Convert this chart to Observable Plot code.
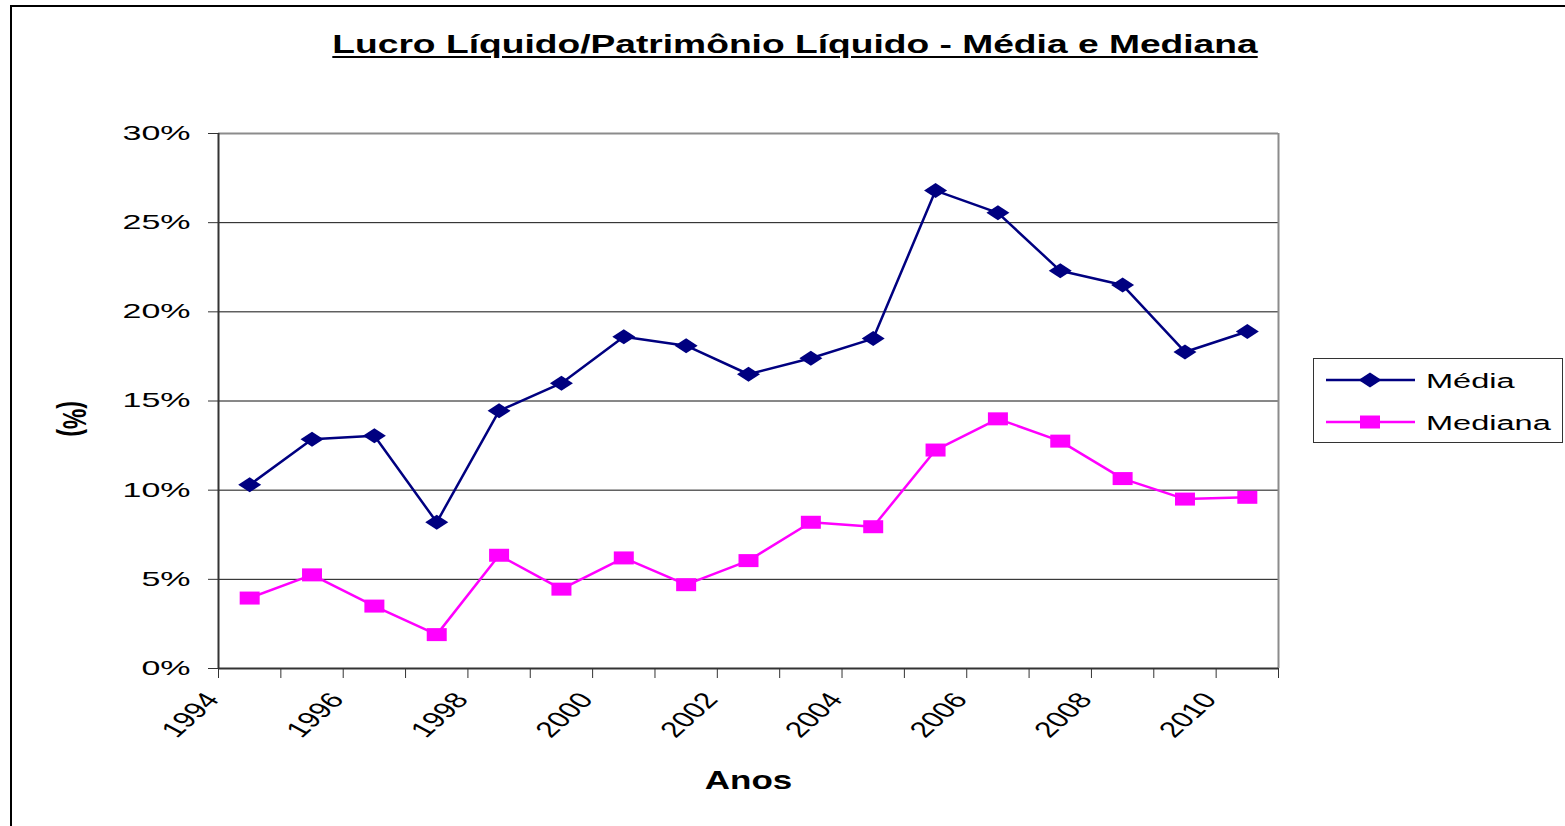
<!DOCTYPE html>
<html>
<head>
<meta charset="utf-8">
<script src="https://cdn.jsdelivr.net/npm/d3@7"></script>
<script src="https://cdn.jsdelivr.net/npm/@observablehq/plot@0.6"></script>
<style>
  body { margin: 0; background: #fff; font-family: "Liberation Sans", Arial, sans-serif; }
  #wrap { position: relative; width: 1565px; height: 826px; overflow: hidden; background: #fff; }
  #border { position: absolute; left: 10px; top: 5px; width: 1600px; height: 900px; border-left: 2px solid #000; border-top: 2px solid #000; }
  #chart { position: absolute; left: 0; top: 0; }
  #title { position: absolute; left: 795px; top: 29px; white-space: nowrap; font-weight: bold; font-size: 26px; line-height: 30px;
           text-decoration: underline; text-decoration-thickness: 2px; text-underline-offset: 3px;
           transform: translateX(-50%) scaleX(1.43); transform-origin: center; }
  #legend { position: absolute; left: 1313px; top: 358px; width: 250px; height: 85px; box-sizing: border-box; border: 1px solid #333; background: #fff; }
</style>
</head>
<body>
<div id="wrap">
  <div id="border"></div>
  <div id="chart"></div>
  <div id="title">Lucro Líquido/Patrimônio Líquido - Média e Mediana</div>
  <div id="legend"></div>
</div>
<script>
// ---- data ----
const years = [1994, 1995, 1996, 1997, 1998, 1999, 2000, 2001, 2002, 2003, 2004, 2005, 2006, 2007, 2008, 2009, 2010];
const media = [10.3, 12.85, 13.05, 8.2, 14.45, 16.0, 18.6, 18.1, 16.5, 17.4, 18.5, 26.8, 25.55, 22.3, 21.5, 17.75, 18.9];
const mediana = [3.95, 5.25, 3.5, 1.9, 6.35, 4.45, 6.2, 4.7, 6.05, 8.2, 7.95, 12.25, 14.0, 12.75, 10.65, 9.5, 9.6];
const seriesNames = ["Média", "Mediana"];
const seriesColors = ["#000080", "#FF00FF"];
const yTicks = [0, 5, 10, 15, 20, 25, 30];
const xTickYears = [1994, 1995, 1996, 1997, 1998, 1999, 2000, 2001, 2002, 2003, 2004, 2005, 2006, 2007, 2008, 2009, 2010, 2011];
const xLabelYears = [1994, 1996, 1998, 2000, 2002, 2004, 2006, 2008, 2010];
const xTitle = "Anos";
const yTitle = "(%)";

const rowsMedia = years.map((year, i) => ({year, value: media[i]}));
const rowsMediana = years.map((year, i) => ({year, value: mediana[i]}));

// wide marker shapes
const wideDiamond = { draw(ctx) { ctx.moveTo(-11.5, 0); ctx.lineTo(0, -7.5); ctx.lineTo(11.5, 0); ctx.lineTo(0, 7.5); ctx.closePath(); } };
const wideSquare = { draw(ctx) { ctx.rect(-10, -6.5, 20, 13); } };

const xc = d => d.year + 0.5;

const plot = Plot.plot({
  width: 1565,
  height: 826,
  marginLeft: 218,
  marginRight: 287,
  marginTop: 133,
  marginBottom: 158,
  x: {domain: [1994, 2011]},
  y: {domain: [0, 30]},
  style: {fontFamily: "'Liberation Sans', Arial, sans-serif", color: "#000", background: "transparent", overflow: "visible"},
  marks: [
    Plot.ruleY(yTicks.filter(d => d > 0 && d < 30), {stroke: "#111", strokeWidth: 1}),
    Plot.ruleY([30], {stroke: "#8c8c8c", strokeWidth: 2}),
    Plot.ruleX([2011], {stroke: "#8c8c8c", strokeWidth: 2}),
    Plot.axisY({ticks: yTicks, tickFormat: d => d + "%", tickSize: 10, tickPadding: 18, fontSize: 20, label: null, stroke: "#333", strokeOpacity: 1}),
    Plot.axisX({ticks: xTickYears, tickFormat: () => "", tickSize: 10, label: null, stroke: "#333", strokeOpacity: 1}),
    Plot.ruleX([1994], {stroke: "#333", strokeWidth: 2}),
    Plot.ruleY([0], {stroke: "#333", strokeWidth: 2}),
    Plot.text(xLabelYears, {x: d => d, frameAnchor: "bottom", text: d => String(d), rotate: -52, textAnchor: "end", lineAnchor: "top", dx: -16, dy: 22, fontSize: 22}),
    Plot.text([xTitle], {frameAnchor: "bottom", text: d => d, dy: 120, lineAnchor: "bottom", fontWeight: "bold", fontSize: 25}),
    Plot.text([yTitle], {frameAnchor: "left", text: d => d, dx: -145, rotate: 90, fontWeight: "bold", fontSize: 23}),
    Plot.line(rowsMedia, {x: xc, y: "value", stroke: seriesColors[0], strokeWidth: 2.5}),
    Plot.dot(rowsMedia, {x: xc, y: "value", symbol: wideDiamond, fill: seriesColors[0], stroke: "none", r: 6}),
    Plot.line(rowsMediana, {x: xc, y: "value", stroke: seriesColors[1], strokeWidth: 2.5}),
    Plot.dot(rowsMediana, {x: xc, y: "value", symbol: wideSquare, fill: seriesColors[1], stroke: "none", r: 6})
  ]
});
document.getElementById("chart").appendChild(plot);

// horizontal (screen) stretch of texts like the reference rendering
function stretchText(t, s) {
  const tr = t.getAttribute("transform") || "";
  if (tr.includes("rotate(")) t.setAttribute("transform", tr.replace("rotate(", `scale(${s},1) rotate(`));
  else t.setAttribute("transform", tr + ` scale(${s},1)`);
}
plot.querySelectorAll("text").forEach(t => {
  const s = t.textContent.trim();
  if (/^\d{4}$/.test(s)) stretchText(t, 1.45);
  else if (s === xTitle) stretchText(t, 1.4);
  else if (s === yTitle) stretchText(t, 1.45);
  else if (/^\d+%$/.test(s)) stretchText(t, 1.7);
});

// legend
const ns = "http://www.w3.org/2000/svg";
const lg = document.createElementNS(ns, "svg");
lg.setAttribute("width", 248); lg.setAttribute("height", 83);
lg.style.fontFamily = "'Liberation Sans', Arial, sans-serif";
const shapes = [wideDiamond, wideSquare];
seriesNames.forEach((name, i) => {
  const cy = i === 0 ? 21 : 63;
  const line = document.createElementNS(ns, "line");
  line.setAttribute("x1", 12); line.setAttribute("x2", 101);
  line.setAttribute("y1", cy); line.setAttribute("y2", cy);
  line.setAttribute("stroke", seriesColors[i]); line.setAttribute("stroke-width", 2.5);
  lg.appendChild(line);
  const p = d3.path(); shapes[i].draw(p);
  const path = document.createElementNS(ns, "path");
  path.setAttribute("d", p.toString());
  path.setAttribute("transform", `translate(56,${cy})`);
  path.setAttribute("fill", seriesColors[i]);
  lg.appendChild(path);
  const tx = document.createElementNS(ns, "text");
  tx.setAttribute("transform", `translate(112,${cy}) scale(1.55,1)`);
  tx.setAttribute("dy", "0.36em");
  tx.setAttribute("font-size", 21);
  tx.textContent = name;
  lg.appendChild(tx);
});
document.getElementById("legend").appendChild(lg);
</script>
</body>
</html>
